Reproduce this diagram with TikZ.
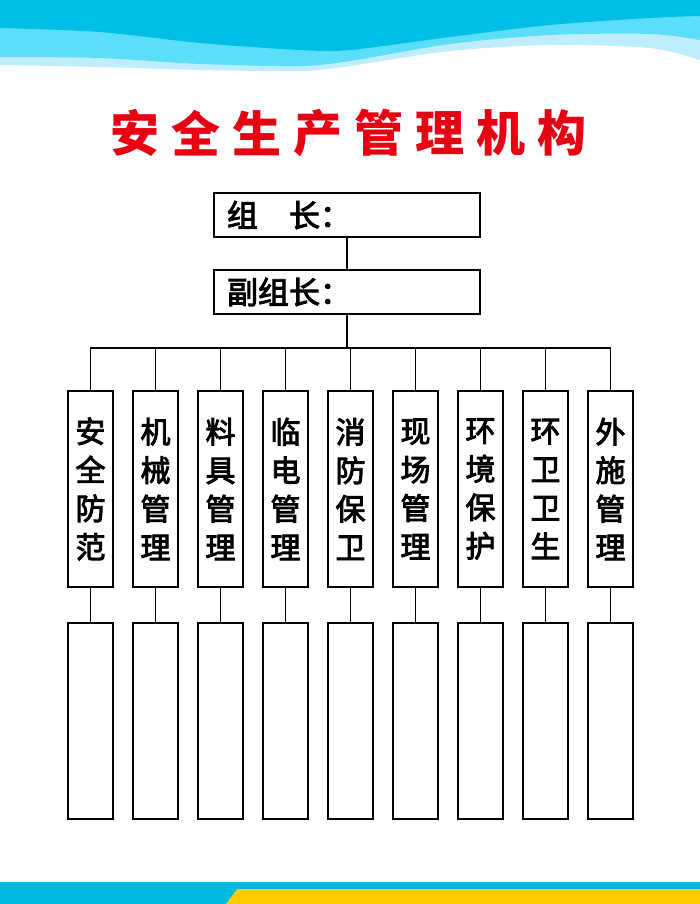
\documentclass[tikz,border=0pt]{standalone}
\usepackage{fontspec}
\newfontfamily\cjk{Noto Sans CJK SC}
\newfontfamily\cjkmid[FakeBold=3]{Noto Sans CJK SC}
\definecolor{wavedark}{RGB}{0,190,230}
\definecolor{wavemid}{RGB}{92,221,248}
\definecolor{wavepale}{RGB}{192,237,251}
\definecolor{stripblue}{RGB}{0,186,226}
\definecolor{stripyellow}{RGB}{255,204,0}
\definecolor{titlered}{RGB}{230,0,18}
\begin{document}
\begin{tikzpicture}[x=1pt,y=-1pt,
  titlechar/.style={text=titlered,inner sep=0pt,font=\cjk\bfseries\fontsize{49}{49}\selectfont},
  topbox/.style={draw,line width=1.8pt,text width=240pt,align=left,inner xsep=13pt,inner ysep=0pt,
    minimum height=44pt,font=\cjkmid\fontsize{31}{31}\selectfont},
  deptbox/.style={draw,line width=1.8pt,minimum width=45pt,minimum height=196pt,inner sep=0pt,
    align=center,font=\cjkmid\fontsize{30}{38.5}\selectfont},
  blankbox/.style={draw,line width=1.8pt,minimum width=45pt,minimum height=196pt,inner sep=0pt},
  link/.style={line width=1.8pt}]
\useasboundingbox (0,0) rectangle (700,904);
\fill[white] (0,0) rectangle (700,904);
\fill[wavepale] (0,0) -- plot[smooth] coordinates {(0,65) (100,67) (200,70) (300,71) (350,66)
  (450,51) (550,45) (650,48) (700,60)} -- (700,0) -- cycle;
\fill[wavemid] (0,0) -- plot[smooth] coordinates {(0,57) (100,58) (200,64) (300,66) (350,61)
  (450,44) (550,35) (650,34) (700,40)} -- (700,0) -- cycle;
\fill[wavedark] (0,0) -- plot[smooth] coordinates {(0,28) (100,32) (200,43) (300,50) (350,50)
  (450,37) (550,25) (650,18) (700,16)} -- (700,0) -- cycle;
\fill[stripblue] (0,882) rectangle (700,904);
\fill[stripyellow] (226,904) -- (237,889) -- (700,889) -- (700,904) -- cycle;
\foreach \c [count=\i from 0] in {安,全,生,产,管,理,机,构}
  \node[titlechar] (title-\i) at (135+61*\i,133) {\c};
\node[topbox] (leader) at (347,215) {组　长：};
\node[topbox] (vice) at (347,292) {副组长：};
\coordinate (bus) at (347,348);
\draw[link] (leader) -- (vice);
\draw[link] (vice.south) -- (bus);
\foreach \t [count=\i] in {安\\全\\防\\范, 机\\械\\管\\理, 料\\具\\管\\理, 临\\电\\管\\理,
    消\\防\\保\\卫, 现\\场\\管\\理, 环\\境\\保\\护, 环\\卫\\卫\\生, 外\\施\\管\\理} {
  \node[deptbox] (dept-\i) at (25.5+65*\i,489) {\t};
  \node[blankbox] (blank-\i) at (25.5+65*\i,721) {};
  \draw[link] (dept-\i.north) -- (dept-\i.north |- bus);
  \draw[link] (dept-\i) -- (blank-\i);
}
\draw[link] (dept-1.north) |- (dept-9.north |- bus) -- (dept-9.north);
\end{tikzpicture}
\end{document}
